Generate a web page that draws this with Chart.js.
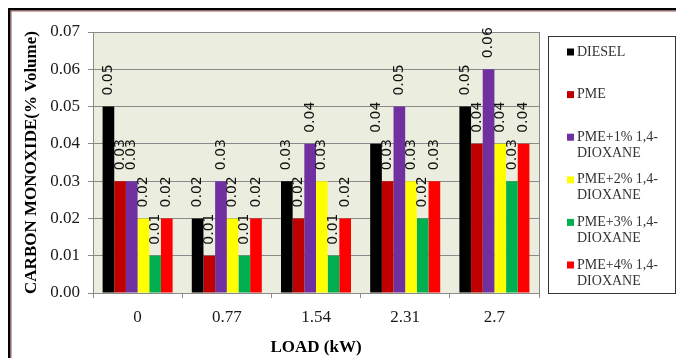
<!DOCTYPE html>
<html>
<head>
<meta charset="utf-8">
<script src="https://cdn.jsdelivr.net/npm/chart.js@4.4.1/dist/chart.umd.min.js"></script>
<style>
  html, body { margin: 0; padding: 0; background: #ffffff; }
  #wrap { width: 676px; height: 358px; }
</style>
</head>
<body>
<div id="wrap"><canvas id="c" width="676" height="358"></canvas></div>
<script>
// Engine load categories (kW)
const loads = ['0', '0.77', '1.54', '2.31', '2.7'];

// Carbon monoxide emissions (% volume) per fuel blend
const diesel = [0.05, 0.02, 0.03, 0.04, 0.05];
const pme    = [0.03, 0.01, 0.02, 0.03, 0.04];
const pme1   = [0.03, 0.03, 0.04, 0.05, 0.06];
const pme2   = [0.02, 0.02, 0.03, 0.03, 0.04];
const pme3   = [0.01, 0.01, 0.01, 0.02, 0.03];
const pme4   = [0.02, 0.02, 0.02, 0.03, 0.04];

const seriesNames = ['DIESEL', 'PME', 'PME+1% 1,4-DIOXANE', 'PME+2% 1,4-DIOXANE',
                     'PME+3% 1,4-DIOXANE', 'PME+4% 1,4-DIOXANE'];
const seriesValues = [diesel, pme, pme1, pme2, pme3, pme4];
const seriesColors = ['#000000', '#C00000', '#7030A0', '#FFFF00', '#00B050', '#FF0000'];

// Value axis range
const yMin = 0;
const yMax = 0.07;
const yStep = 0.01;

const GRID = '#8a8a8a';
const SERIF = '"Liberation Serif", "Times New Roman", serif';
const SANS = '"DejaVu Sans", Verdana, sans-serif';

// Page frame, plot background
const backdrop = {
  id: 'backdrop',
  beforeDraw(chart) {
    const ctx = chart.ctx;
    const a = chart.chartArea;
    ctx.save();
    ctx.fillStyle = '#ffffff';
    ctx.fillRect(0, 0, chart.width, chart.height);
    ctx.fillStyle = '#000000';
    ctx.fillRect(8, 8, chart.width - 8, 2.5);
    ctx.fillRect(8, 8, 2.5, chart.height - 8);
    ctx.fillStyle = '#9a5b5b';
    ctx.fillRect(10.5, 10.5, chart.width - 10.5, 1);
    ctx.fillRect(10.5, 10.5, 1, chart.height - 10.5);
    ctx.fillStyle = '#EBEEDE';
    ctx.fillRect(a.left, a.top, a.right - a.left, a.bottom - a.top);
    ctx.restore();
  }
};

// Value labels, plot border and legend box
const overlay = {
  id: 'overlay',
  afterDatasetsDraw(chart) {
    const ctx = chart.ctx;
    const a = chart.chartArea;
    ctx.save();

    // right edge of the plot area
    ctx.strokeStyle = GRID;
    ctx.lineWidth = 1;
    ctx.beginPath();
    ctx.moveTo(Math.round(a.right) + 0.5, a.top);
    ctx.lineTo(Math.round(a.right) + 0.5, a.bottom);
    ctx.stroke();

    // rotated value labels above each bar
    ctx.fillStyle = '#111111';
    ctx.font = '14px ' + SANS;
    ctx.textAlign = 'left';
    ctx.textBaseline = 'middle';
    chart.data.datasets.forEach((ds, i) => {
      const meta = chart.getDatasetMeta(i);
      meta.data.forEach((bar, j) => {
        ctx.save();
        ctx.translate(bar.x, bar.y - 11);
        ctx.rotate(-Math.PI / 2);
        ctx.fillText(ds.data[j].toFixed(2), 0, 0);
        ctx.restore();
      });
    });

    // legend
    const lx = 548, ly = 36, lw = 127, lh = 257;
    ctx.strokeStyle = '#333333';
    ctx.strokeRect(lx + 0.5, ly + 0.5, lw, lh);
    ctx.font = '14px ' + SERIF;
    ctx.textBaseline = 'middle';
    const firstY = 52, step = 42.6, lineGap = 16;
    chart.data.datasets.forEach((ds, i) => {
      const y = firstY + i * step;
      ctx.fillStyle = ds.backgroundColor;
      ctx.fillRect(567, y - 3.5, 7, 7);
      ctx.fillStyle = '#333333';
      ds.label.replace('1,4-', '1,4-\n').split('\n').forEach((t, k) => {
        ctx.fillText(t, 577, y + k * lineGap);
      });
    });
    ctx.restore();
  }
};

new Chart(document.getElementById('c'), {
  type: 'bar',
  data: {
    labels: loads,
    datasets: seriesNames.map((name, i) => ({
      label: name,
      data: seriesValues[i],
      backgroundColor: seriesColors[i],
      borderWidth: 0,
      categoryPercentage: 0.785,
      barPercentage: 1.0
    }))
  },
  options: {
    responsive: false,
    animation: false,
    layout: { padding: { left: 0, top: 32, right: 137, bottom: 0 } },
    plugins: {
      legend: { display: false },
      title: { display: false },
      tooltip: { enabled: false }
    },
    scales: {
      x: {
        afterFit(scale) { scale.height = 65; },
        grid: { drawOnChartArea: false, drawTicks: true, tickLength: 5, color: GRID, offset: true },
        border: { color: GRID },
        ticks: { color: '#1a1a1a', font: { family: SERIF, size: 17 }, padding: 9, maxRotation: 0 },
        title: {
          display: true,
          text: 'LOAD (kW)',
          color: '#000000',
          font: { family: SERIF, size: 17, weight: 'bold' },
          padding: { top: 0, bottom: 0 }
        }
      },
      y: {
        min: yMin,
        max: yMax,
        afterFit(scale) { scale.width = 93; },
        grid: { color: GRID, tickLength: 5, drawTicks: true },
        border: { color: GRID },
        ticks: {
          stepSize: yStep,
          color: '#1a1a1a',
          font: { family: SERIF, size: 17 },
          padding: 8,
          callback: v => Number(v).toFixed(2)
        },
        title: {
          display: true,
          text: 'CARBON MONOXIDE(% Volume)',
          color: '#000000',
          font: { family: SERIF, size: 17, weight: 'bold' },
          padding: { top: 21, bottom: 0 }
        }
      }
    }
  },
  plugins: [backdrop, overlay]
});
</script>
</body>
</html>
